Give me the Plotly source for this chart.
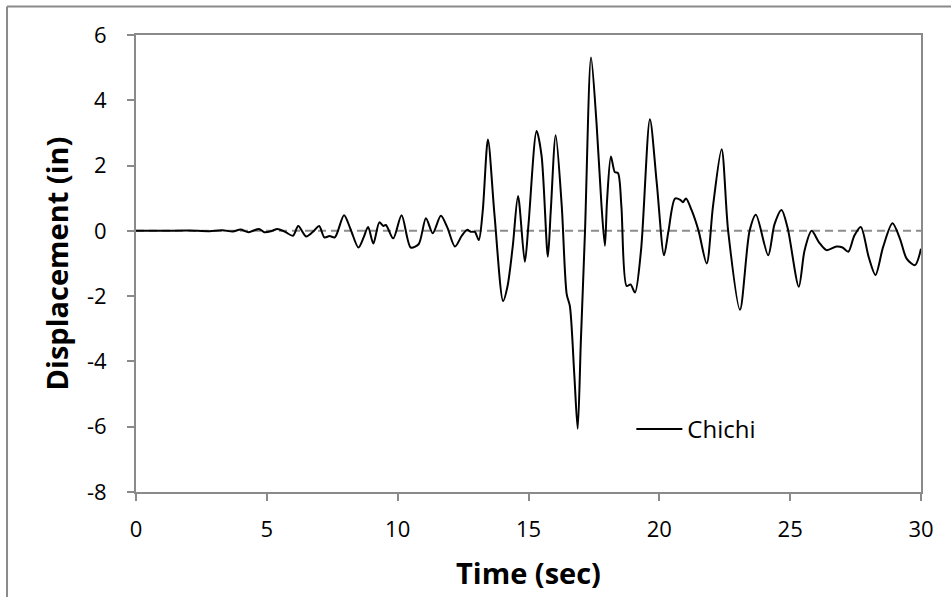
import plotly.graph_objects as go

time_s = [0, 1, 2, 2.8, 3.3, 3.7, 4.0, 4.3, 4.7, 4.9,
          5.2, 5.4, 5.7, 6.0, 6.2, 6.5, 6.8, 7.0, 7.2, 7.4,
          7.6, 7.95, 8.2, 8.5, 8.7, 8.87, 9.07, 9.3, 9.45, 9.55,
          9.83, 10.15, 10.5, 10.8, 11.08, 11.34, 11.65, 11.9, 12.19, 12.45,
          12.65, 12.8, 12.95, 13.1, 13.25, 13.45, 13.7, 14.03, 14.2, 14.4,
          14.6, 14.86, 15.0, 15.31, 15.5, 15.74, 15.85, 16.04, 16.27, 16.46,
          16.58, 16.75, 16.88, 17.0, 17.16, 17.39, 17.6, 17.79, 17.92, 18.0,
          18.15, 18.3, 18.42, 18.55, 18.75, 18.9, 19.07, 19.3, 19.64, 19.9,
          20.18, 20.35, 20.6, 20.8, 20.9, 21.02, 21.23, 21.5, 21.81, 22.05,
          22.38, 22.63, 23.08, 23.45, 23.69, 24.16, 24.4, 24.67, 24.9, 25.33,
          25.55, 25.82, 26.1, 26.39, 26.77, 27.0, 27.22, 27.45, 27.7, 28.0,
          28.26, 28.55, 28.91, 29.2, 29.45, 29.77, 30.0]

disp_in = [0, 0, 0.01, -0.01, 0.02, -0.02, 0.04, -0.04, 0.06, -0.04,
           0.0, 0.06, -0.03, -0.15, 0.15, -0.17, 0.0, 0.15, -0.2, -0.16,
           -0.2, 0.48, 0.05, -0.51, -0.2, 0.12, -0.39, 0.26, 0.15, 0.18,
           -0.23, 0.48, -0.51, -0.41, 0.39, -0.07, 0.46, 0.1, -0.48, -0.15,
           0.03, -0.03, -0.03, -0.28, 0.6, 2.8, 0.5, -2.15, -1.69, -0.46,
           1.07, -0.95, 0.2, 3.06, 2.3, -0.79, 0.6, 2.93, 0.77, -1.94,
           -2.3, -4.4, -6.06, -3.4, 0.0, 5.31, 3.3, 0.77, -0.46, 0.9,
           2.28, 1.8, 1.77, 0.75, -1.69, -1.64, -1.89, -0.6, 3.42, 1.48,
           -0.75, 0.0, 0.99, 0.95, 0.88, 0.99, 0.64, 0.0, -1.0, 0.75,
           2.5, 0.0, -2.42, 0.0, 0.49, -0.75, 0.2, 0.64, 0.1, -1.71,
           -0.6, 0.0, -0.35, -0.59, -0.48, -0.51, -0.64, -0.15, 0.12, -0.8,
           -1.35, -0.5, 0.23, -0.25, -0.85, -1.05, -0.55]

x_ticks = [0, 5, 10, 15, 20, 25, 30]
y_ticks = [-8, -6, -4, -2, 0, 2, 4, 6]
y_tick_labels = ["-8", "-6", "-4", "-2", "0", "2", "4", "6"]
series_name = "Chichi"
x_title = "Time (sec)"
y_title = "Displacement (in)"

FONT = "'Open Sans', 'Noto Sans', sans-serif"
GRAY = "#8a8a8a"

fig = go.Figure()

# zero reference line
fig.add_trace(go.Scatter(
    x=[x_ticks[0], x_ticks[-1]], y=[0, 0], mode="lines",
    line=dict(color="#8c8c8c", width=2, dash="8px,5px"),
    showlegend=False, hoverinfo="skip"))

fig.add_trace(go.Scatter(
    x=time_s, y=disp_in, mode="lines", name=series_name,
    line=dict(color="black", width=2, shape="spline", smoothing=0.8)))

fig.update_layout(
    width=951, height=597,
    margin=dict(l=136, r=30, t=35, b=105, autoexpand=False),
    paper_bgcolor="white", plot_bgcolor="white",
    font=dict(family=FONT, color="black", size=22),
    legend=dict(x=0.631, y=0.137, xanchor="left", yanchor="middle",
                bgcolor="rgba(0,0,0,0)", font=dict(size=24, family=FONT),
                itemwidth=46),
    shapes=[
        dict(type="line", xref="paper", yref="paper",
             x0=-0.1643, x1=-0.1643, y0=1.0624, y1=-0.25,
             line=dict(color=GRAY, width=2)),
        dict(type="line", xref="paper", yref="paper",
             x0=-0.1643, x1=1.1, y0=1.0624, y1=1.0624,
             line=dict(color=GRAY, width=2)),
    ],
)

fig.update_xaxes(
    range=[0, 30], tickvals=x_ticks, ticks="outside", ticklen=7,
    tickcolor=GRAY, tickwidth=1.5, ticklabelstandoff=10,
    showline=True, linecolor=GRAY, linewidth=2, mirror=True,
    showgrid=False, zeroline=False, automargin=False,
    tickfont=dict(size=22, family=FONT),
    title=dict(text="<b>" + x_title + "</b>", font=dict(size=29, family=FONT), standoff=21))

fig.update_yaxes(
    range=[-8, 6], tickvals=y_ticks, ticktext=y_tick_labels,
    ticks="outside", ticklen=7,
    tickcolor=GRAY, tickwidth=1.5, ticklabelstandoff=16,
    showline=True, linecolor=GRAY, linewidth=2, mirror=True,
    showgrid=False, zeroline=False, automargin=False,
    tickfont=dict(size=22, family=FONT),
    title=dict(text="<b>" + y_title + "</b>", font=dict(size=29, family=FONT), standoff=10))

fig.write_html("out.html", config={"displayModeBar": False},
               post_script="document.body.style.margin='0';")
